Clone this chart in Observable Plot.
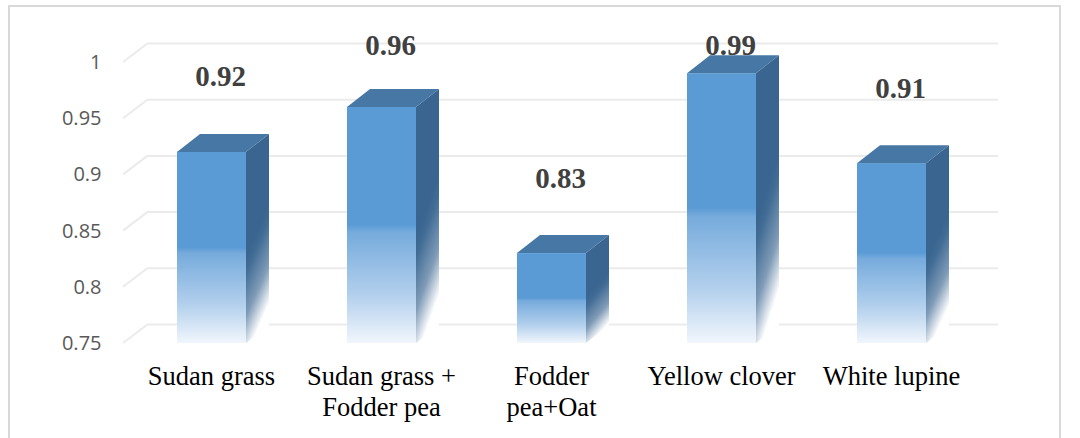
<!DOCTYPE html>
<html>
<head>
<meta charset="utf-8">
<script src="https://cdn.jsdelivr.net/npm/d3@7"></script>
<script src="https://cdn.jsdelivr.net/npm/@observablehq/plot@0.6"></script>
<style>
  html, body { margin: 0; padding: 0; background: #fff; }
  #chart { position: relative; width: 1080px; height: 438px; overflow: hidden; background: #fff; }
  #chart .border { position: absolute; left: 8px; top: 5px; width: 1053px; height: 445px;
    border: 2px solid #d9d9d9; box-sizing: border-box; pointer-events: none; }
</style>
</head>
<body>
<div id="chart"><div class="border"></div></div>
<script>
// Crop categories (line breaks as they appear under the bars)
const categories = ["Sudan grass", "Sudan grass +\nFodder pea", "Fodder\npea+Oat", "Yellow clover", "White lupine"];
// Ratio value per crop
const values = [0.92, 0.96, 0.83, 0.99, 0.91];
// Value axis ticks
const tickValues = [0.75, 0.8, 0.85, 0.9, 0.95, 1];
const tickLabels = ["0.75", "0.8", "0.85", "0.9", "0.95", "1"];

const rows = categories.map((category, i) => ({category, value: values[i]}));
const ticks = tickValues.map((v, i) => ({v, label: tickLabels[i]}));

const base = tickValues[0];
// Perspective offsets for the back wall and for the bar depth (pixels)
const wallDx = 25, wallDy = -19;
const barDx = 23, barDy = -18;
// Front face position inside each band
const insetL = 54, insetR = 47;

// Gradients plus the diagonal floor/wall joins of the gridlines
function wallAndDefs(index, {y}, values, {marginLeft}) {
  const g = d3.create("svg:g");
  const defs = g.append("defs");
  const front = defs.append("linearGradient").attr("id", "front-fade")
    .attr("x1", 0).attr("y1", 0).attr("x2", 0).attr("y2", 1);
  [[0, "#5b9bd5"], [0.5, "#5b9bd5"], [0.53, "#76abdc"], [0.8, "#b3d0ed"], [1, "#f1f6fc"]]
    .forEach(([o, c]) => front.append("stop").attr("offset", o).attr("stop-color", c));
  const side = defs.append("linearGradient").attr("id", "side-fade")
    .attr("x1", 0).attr("y1", 0).attr("x2", 0.25).attr("y2", 1);
  [[0, "#3a6590"], [0.55, "#3a6590"], [0.62, "#416c95"], [0.82, "#7f9bb7"], [1, "#ffffff"]]
    .forEach(([o, c]) => side.append("stop").attr("offset", o).attr("stop-color", c));
  for (const v of tickValues) {
    g.append("line")
      .attr("x1", marginLeft).attr("y1", y(v))
      .attr("x2", marginLeft + wallDx).attr("y2", y(v) + wallDy)
      .attr("stroke", "#ebebeb").attr("stroke-width", 2);
  }
  return g.node();
}

// Top and side faces of each 3D bar
function barDepth(index, {x, y}) {
  const g = d3.create("svg:g");
  const bw = x.bandwidth();
  for (const d of rows) {
    const x0 = x(d.category) + insetL;
    const x1 = x(d.category) + bw - insetR;
    const yt = y(d.value), yb = y(base);
    g.append("path")
      .attr("d", `M${x0},${yt}L${x0 + barDx},${yt + barDy}L${x1 + barDx},${yt + barDy}L${x1},${yt}Z`)
      .attr("fill", "#4677a5");
    g.append("path")
      .attr("d", `M${x1},${yt}L${x1 + barDx},${yt + barDy}L${x1 + barDx},${yb + barDy}L${x1},${yb}Z`)
      .attr("fill", "url(#side-fade)");
  }
  return g.node();
}

const chart = Plot.plot({
  width: 1080,
  height: 438,
  marginTop: 62,
  marginBottom: 95,
  marginLeft: 123,
  marginRight: 107,
  x: {domain: categories, padding: 0, axis: null},
  y: {domain: [0.75, 1], axis: null},
  style: {background: "transparent", overflow: "visible"},
  marks: [
    wallAndDefs,
    Plot.ruleY(tickValues, {dx: wallDx, dy: wallDy, stroke: "#ebebeb", strokeWidth: 2}),
    Plot.barY(rows, {x: "category", y1: base, y2: "value", insetLeft: insetL, insetRight: insetR, fill: "url(#front-fade)"}),
    barDepth,
    Plot.text(ticks, {y: "v", text: "label", frameAnchor: "left", textAnchor: "end", dx: -22,
      fontFamily: "Open Sans", fontSize: 20, fill: "#595959"}),
    Plot.text(rows, {x: "category", y: () => base, text: "category", dx: 3, dy: 20, lineAnchor: "top", lineHeight: 1.16,
      fontFamily: "Liberation Serif", fontSize: 26.5, fill: "#000"}),
    Plot.text(rows, {x: "category", y: d => Math.min(d.value + 0.067, 1.015), text: d => d.value.toFixed(2), dx: 12,
      fontFamily: "Liberation Serif", fontSize: 29, fontWeight: "bold", fill: "#404040"})
  ]
});

document.getElementById("chart").prepend(chart);
</script>
</body>
</html>
